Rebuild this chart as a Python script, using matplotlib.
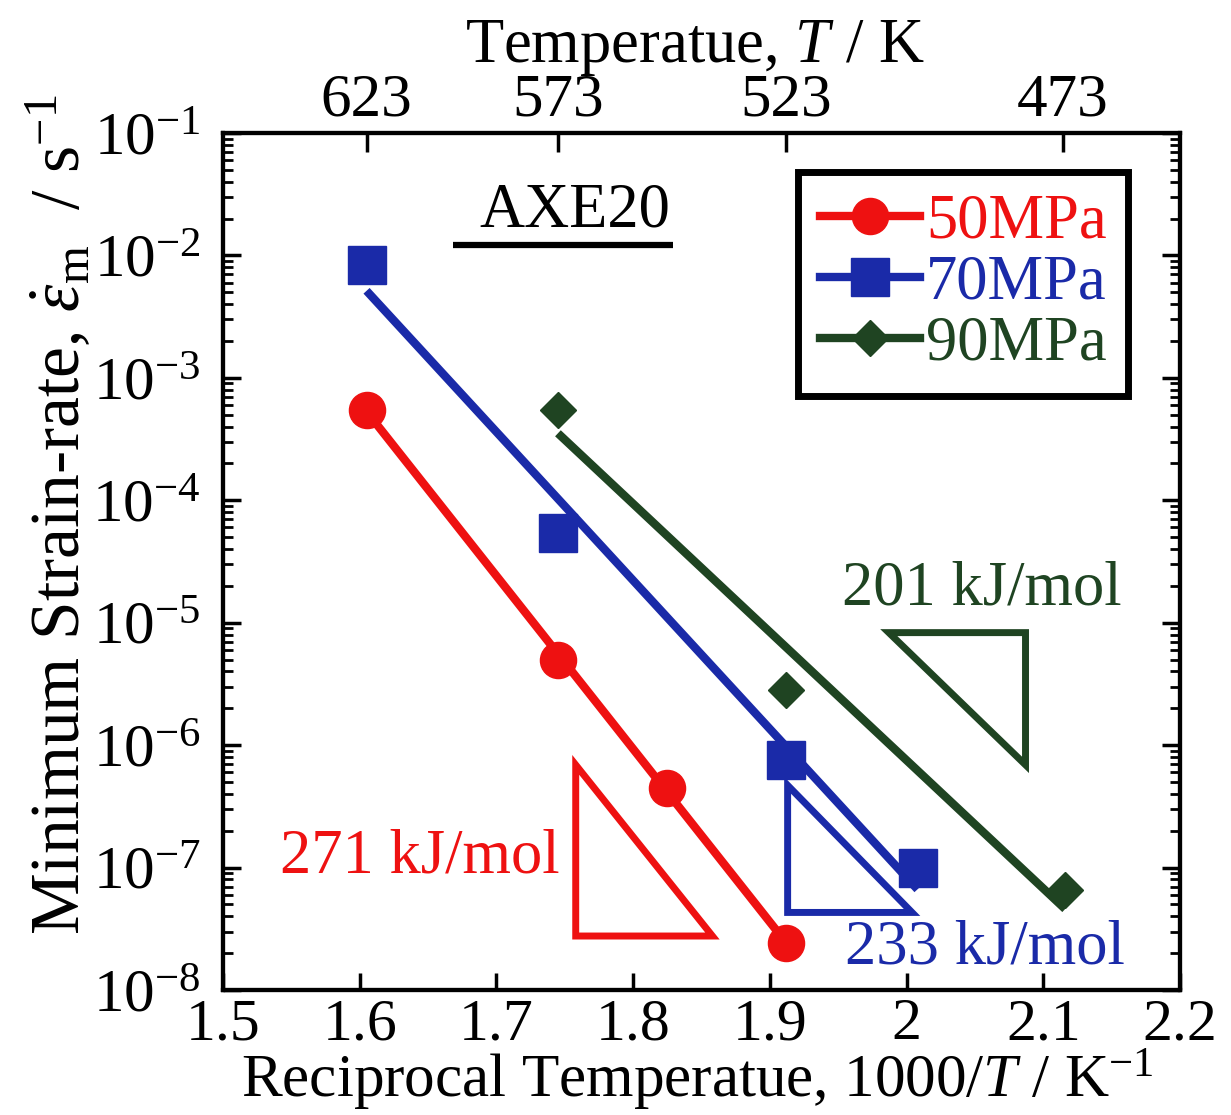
import numpy as np
import matplotlib.pyplot as plt
from matplotlib.lines import Line2D
from matplotlib.ticker import LogLocator, NullFormatter

plt.rcParams['font.family'] = ['Liberation Serif', 'DejaVu Serif']
plt.rcParams['mathtext.fontset'] = 'custom'
plt.rcParams['mathtext.rm'] = 'Liberation Serif'
plt.rcParams['mathtext.it'] = 'Liberation Serif:italic'
plt.rcParams['mathtext.bf'] = 'Liberation Serif:bold'

# -----------------------
# data
# -----------------------
x_50 = [1.605, 1.745, 1.825, 1.912]
y_50 = [5.5e-4, 5.0e-6, 4.5e-7, 2.4e-8]

x_70 = [1.605, 1.745, 1.912, 2.008]
y_70 = [8.3e-3, 5.4e-5, 7.6e-7, 1.0e-7]

x_90 = [1.745, 1.912, 2.116]
y_90 = [5.5e-4, 2.8e-6, 6.6e-8]

labels = ["50MPa", "70MPa", "90MPa"]
colors = ["#ee1111", "#1a2aa8", "#1f4422"]
markers = ["o", "s", "D"]
msizes = [26, 27, 18]

top_T = [623, 573, 523, 473]

# slope triangles (1000/T, strain rate)
tri_50_x = [1.758, 1.758, 1.858]
tri_50_y = [6.9e-7, 2.76e-8, 2.76e-8]
tri_70_x = [1.913, 1.913, 2.004]
tri_70_y = [4.7e-7, 4.3e-8, 4.3e-8]
tri_90_x = [1.987, 2.087, 2.087]
tri_90_y = [8.3e-6, 8.3e-6, 6.9e-7]

q_texts = ["271 kJ/mol", "233 kJ/mol", "201 kJ/mol"]
q_pos = [(1.644, 1.2e-7), (2.057, 2.2e-8), (2.055, 1.86e-5)]

# -----------------------
# figure
# -----------------------
fig = plt.figure(figsize=(12.31, 11.15), dpi=100)
ax = fig.add_axes([223/1231, 125/1115, 957/1231, 857/1115])

series = [(x_50, y_50), (x_70, y_70), (x_90, y_90)]
for (xs, ys), c, m, ms in zip(series, colors, markers, msizes):
    xs = np.array(xs)
    p = np.polyfit(xs, np.log10(ys), 1)
    xf = np.array([xs.min(), xs.max()])
    ax.plot(xf, 10**np.polyval(p, xf), color=c, lw=6, solid_capstyle="butt", zorder=2)
    ax.plot(xs, ys, ls="none", marker=m, ms=ms, color=c, mec=c, zorder=3)

for tx, ty, c in [(tri_50_x, tri_50_y, colors[0]),
                  (tri_70_x, tri_70_y, colors[1]),
                  (tri_90_x, tri_90_y, colors[2])]:
    ax.fill(tx, ty, fill=False, edgecolor=c, lw=5, joinstyle="miter")

for t, (px, py), c in zip(q_texts, q_pos, colors):
    ax.text(px, py, t, color=c, fontsize=45, ha="center", va="center")

ax.text(1.7575, 2.3e-2, "AXE20", fontsize=45, ha="center", va="center")
ax.plot([1.668, 1.829], [1.22e-2, 1.22e-2], color="black", lw=4.5, solid_capstyle="butt")

ax.set_yscale("log")
ax.set_xlim(1.5, 2.2)
ax.set_ylim(1e-8, 1e-1)
ax.yaxis.set_major_locator(LogLocator(base=10, numticks=20))
ax.yaxis.set_minor_locator(LogLocator(base=10, subs=np.arange(2, 10), numticks=20))
ax.yaxis.set_minor_formatter(NullFormatter())
ax.set_xticks(np.arange(1.5, 2.21, 0.1))
ax.set_xticklabels(["1.5", "1.6", "1.7", "1.8", "1.9", "2", "2.1", "2.2"])
ax.tick_params(axis="x", which="major", direction="in", length=12, width=2.5,
               labelsize=43, pad=6, top=False)
ax.tick_params(axis="y", which="major", direction="in", length=13, width=2.5,
               labelsize=44, pad=16, right=True)
ax.tick_params(axis="y", which="minor", direction="in", length=7, width=2, right=True)
ax.tick_params(axis="x", which="minor", bottom=False, top=False)
for s in ax.spines.values():
    s.set_linewidth(3)

ax2 = ax.twiny()
ax2.set_xlim(1.5, 2.2)
ax2.set_xticks(1000 / np.array(top_T))
ax2.set_xticklabels([str(t) for t in top_T])
ax2.tick_params(axis="x", direction="in", length=14, width=2.5, labelsize=44, pad=3)
for s in ax2.spines.values():
    s.set_linewidth(3)

# legend
handles = [Line2D([], [], color=c, lw=6, marker=m, ms=ms, mec=c)
           for c, m, ms in zip(colors, markers, msizes)]
leg = ax.legend(handles, labels, loc="upper right", bbox_to_anchor=(0.946, 0.955),
                borderaxespad=0, fontsize=45, handlelength=1.6, handletextpad=0.1,
                labelspacing=0.05, borderpad=0.35, fancybox=False, framealpha=1,
                edgecolor="black", labelcolor="linecolor")
leg.get_frame().set_linewidth(5)

fig.text(695/1231, 1 - 62/1115, r"Temperatue, $T$ / K", fontsize=45,
         ha="center", va="baseline")
fig.text(697/1231, 1 - 1097/1115, r"Reciprocal Temperatue, 1000/$T$ / K$^{-1}$",
         fontsize=44, ha="center", va="baseline")
fig.text(60/1231, 1 - 515/1115, r"Minimum Strain-rate, $\dot{\varepsilon}_{\rm m}$  / s$^{-1}$",
         fontsize=50, ha="center", va="center", rotation=90)

fig.savefig("out.png", dpi=100)
